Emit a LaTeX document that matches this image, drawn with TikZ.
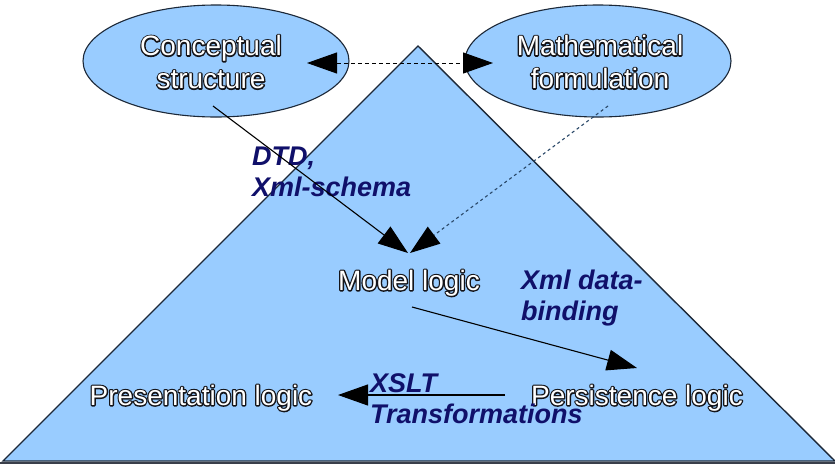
\documentclass[tikz,border=0pt]{standalone}
\usepackage{fontspec}
\setmainfont{Liberation Sans}
\usetikzlibrary{arrows.meta,shapes.geometric}

\definecolor{skyfill}{HTML}{99CCFF}
\definecolor{edgeink}{HTML}{1C2838}
\definecolor{labelnavy}{HTML}{10106A}
\definecolor{dotink}{HTML}{2A4868}
\definecolor{baseband}{HTML}{3A3F4A}

% white letters on a dark stroked rim: a stroked copy underneath (PDF text
% render mode 1), the plain white letters on top
\newcommand{\outl}[1]{\rlap{\special{pdf:code q 0.08 0.08 0.1 RG 2.6 w 1 j 1 Tr}#1\special{pdf:code Q}}#1}

\tikzset{
  bubble/.style={ellipse, draw=edgeink, line width=1.1pt, fill=skyfill,
    minimum width=266pt, minimum height=112pt, inner sep=0pt},
  layertext/.style={text=white, font=\fontsize{28}{33}\selectfont,
    align=center, inner sep=0pt},
  toollabel/.style={text=labelnavy, font=\fontsize{27}{31}\selectfont\bfseries\itshape,
    align=left, inner sep=0pt, anchor=west},
  flow/.style={draw=black, line width=1.1pt, -{Triangle[length=30pt,width=21pt]}},
  linkdash/.style={draw=black, line width=1pt, dash pattern=on 4pt off 3pt,
    {Triangle[length=30pt,width=21pt]}-{Triangle[length=30pt,width=21pt]}},
  linkdot/.style={draw=dotink, line width=1.1pt, dash pattern=on 3pt off 3pt,
    -{Triangle[length=30pt,width=21pt,color=black]}},
}

\begin{document}
\begin{tikzpicture}[x=1pt,y=-1pt]
  % canvas
  \fill[white] (0,0) rectangle (835,464);
  \useasboundingbox (0,0) rectangle (835,464);

  % the layered pyramid
  \filldraw[fill=skyfill, draw=edgeink, line width=1.4pt, line join=miter]
    (418,46) -- (835,461) -- (3,461) -- cycle;
  \fill[baseband] (0,461.5) rectangle (835,464);

  % the two source models
  \node[bubble] (cs) at (216,61) {};
  \node[bubble] (mf) at (598,61) {};
  \node[layertext] (cst) at (211,62) {\outl{Conceptual}\\\outl{structure}};
  \node[layertext] (mft) at (600,62) {\outl{Mathematical}\\\outl{formulation}};

  % the three logic layers
  \node[layertext] (ml) at (409,283) {\outl{Model logic}};
  \node[layertext] (pl) at (637,398) {\outl{Persistence logic}};
  \node[layertext] (pr) at (201,398) {\outl{Presentation logic}};

  % technology labels
  \node[toollabel] (dtd) at (252,172) {DTD,\\Xml-schema};
  \node[toollabel] (xdb) at (521,298) {Xml data-\\binding};
  \node[toollabel] (xslt) at (370,399) {XSLT\\Transformations};

  % connector end points
  \coordinate (cs-out) at (213,106);
  \coordinate (mf-out) at (608,106);
  \coordinate (ml-in) at (408,253);
  \coordinate (ml-in2) at (410,253);
  \coordinate (cs-side) at (307,63);
  \coordinate (mf-side) at (493,63);
  \coordinate (ml-out) at (412,307);
  \coordinate (pl-in) at (637,368);
  \coordinate (pl-out) at (505,395);
  \coordinate (pr-in) at (338,395);

  % connectors
  \draw[linkdash] (cs-side) -- (mf-side);
  \draw[flow] (cs-out) -- (ml-in);
  \draw[linkdot] (mf-out) -- (ml-in2);
  \draw[flow] (ml-out) -- (pl-in);
  \draw[flow] (pl-out) -- (pr-in);
\end{tikzpicture}
\end{document}
